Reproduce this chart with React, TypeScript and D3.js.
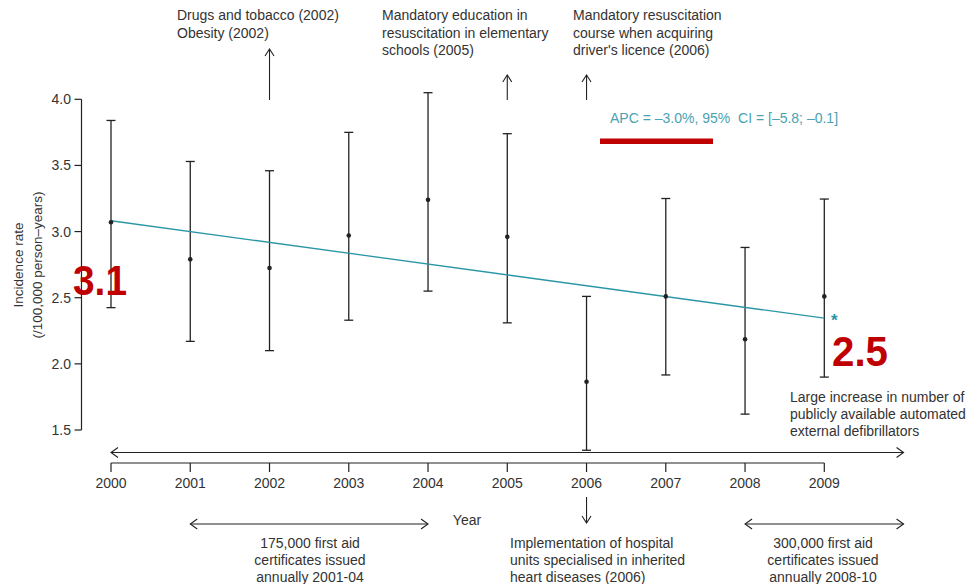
import React from "react";
import * as d3 from "d3";

const years = [2000, 2001, 2002, 2003, 2004, 2005, 2006, 2007, 2008, 2009];
const rate = [3.07, 2.79, 2.725, 2.97, 3.24, 2.96, 1.865, 2.51, 2.186, 2.51];
const lower = [2.425, 2.17, 2.1, 2.33, 2.55, 2.31, 1.347, 1.916, 1.62, 1.9];
const upper = [3.84, 3.53, 3.46, 3.75, 4.05, 3.74, 2.51, 3.25, 2.88, 3.246];
const trendYears = [2000, 2009];
const trendValues = [3.082, 2.345];
const yTicks = [1.5, 2.0, 2.5, 3.0, 3.5, 4.0];

const topNotes = [
  { year: 2002, lines: ["Drugs and tobacco (2002)", "Obesity (2002)"], tx: 177, arrowTop: 49 },
  { year: 2005, lines: ["Mandatory education in", "resuscitation in elementary", "schools (2005)"], tx: 382, arrowTop: 75 },
  { year: 2006, lines: ["Mandatory resuscitation", "course when acquiring", "driver's licence (2006)"], tx: 573, arrowTop: 75 },
];
const spanArrows = [
  { from: 2000, to: 2010, y: 452.5 },
  { from: 2001, to: 2004, y: 524 },
  { from: 2008, to: 2010, y: 524 },
];

const FONT = "'Liberation Sans', Arial, Helvetica, sans-serif";
const TEXT = "#333";
const TEAL = "#2a96a5";
const RED = "#c00000";

export default function App() {
  const x = d3.scaleLinear().domain([2000, 2009]).range([111, 824.3]);
  const y = d3.scaleLinear().domain([1.5, 4.0]).range([430, 99.3]);
  const trendLine = d3
    .line<number>()
    .x((_, i) => x(trendYears[i]))
    .y((d) => y(d));

  const axisX = 81.5;
  const axisY = 463;

  const chevronUp = (cx: number, cy: number) => `M${cx - 4.5},${cy + 7}L${cx},${cy}L${cx + 4.5},${cy + 7}`;
  const chevronDown = (cx: number, cy: number) => `M${cx - 4.5},${cy - 7}L${cx},${cy}L${cx + 4.5},${cy - 7}`;
  const chevronLeft = (cx: number, cy: number) => `M${cx + 7},${cy - 5}L${cx},${cy}L${cx + 7},${cy + 5}`;
  const chevronRight = (cx: number, cy: number) => `M${cx - 7},${cy - 5}L${cx},${cy}L${cx - 7},${cy + 5}`;

  return (
    <svg
      width={969}
      height={584}
      style={{ position: "absolute", left: 0, top: 0, background: "#fff" }}
      fontFamily={FONT}
    >
      {/* Y axis */}
      <line x1={axisX} x2={axisX} y1={y(4.0)} y2={y(1.5)} stroke="#222" strokeWidth={1.2} />
      {yTicks.map((t) => (
        <g key={t}>
          <line x1={axisX - 7} x2={axisX} y1={y(t)} y2={y(t)} stroke="#222" strokeWidth={1.2} />
          <text x={71} y={y(t) + 5} textAnchor="end" fontSize={14} fill={TEXT}>
            {t.toFixed(1)}
          </text>
        </g>
      ))}
      <text transform="translate(23,265) rotate(-90)" textAnchor="middle" fontSize={13.5} fill={TEXT}>
        Incidence rate
      </text>
      <text transform="translate(42,265) rotate(-90)" textAnchor="middle" fontSize={13.5} fill={TEXT}>
        (/100,000 person–years)
      </text>

      {/* X axis */}
      <line x1={x(2000)} x2={x(2009)} y1={axisY} y2={axisY} stroke="#222" strokeWidth={1.2} />
      {years.map((yr) => (
        <g key={yr}>
          <line x1={x(yr)} x2={x(yr)} y1={axisY} y2={axisY + 9} stroke="#222" strokeWidth={1.2} />
          <text x={x(yr)} y={488} textAnchor="middle" fontSize={14} fill={TEXT}>
            {yr}
          </text>
        </g>
      ))}
      <text x={467} y={525} textAnchor="middle" fontSize={14} fill={TEXT}>
        Year
      </text>

      {/* Error bars */}
      {years.map((yr, i) => (
        <g key={"e" + yr} stroke="#222" strokeWidth={1.3}>
          <line x1={x(yr)} x2={x(yr)} y1={y(upper[i])} y2={y(lower[i])} />
          <line x1={x(yr) - 4.5} x2={x(yr) + 4.5} y1={y(upper[i])} y2={y(upper[i])} />
          <line x1={x(yr) - 4.5} x2={x(yr) + 4.5} y1={y(lower[i])} y2={y(lower[i])} />
        </g>
      ))}

      {/* Trend */}
      <path d={trendLine(trendValues) || ""} fill="none" stroke={TEAL} strokeWidth={1.3} />
      {years.map((yr, i) => (
        <circle key={"p" + yr} cx={x(yr)} cy={y(rate[i])} r={2.3} fill="#222" />
      ))}
      <text x={x(2009) + 10} y={y(trendValues[1]) + 8} textAnchor="middle" fontSize={17} fill={TEAL} fontWeight="bold">
        *
      </text>

      {/* APC */}
      <text x={610} y={123} fontSize={14} fill="#4aa2b2">
        APC = –3.0%, 95%{"\u00a0\u00a0"}CI = [–5.8; –0.1]
      </text>
      <rect x={600} y={138.5} width={113} height={5.5} fill={RED} />

      {/* Red labels */}
      <text x={73} y={295} fontSize={42} fontWeight="bold" fill={RED} textLength={54} lengthAdjust="spacingAndGlyphs">
        3.1
      </text>
      <text x={832} y={366} fontSize={42} fontWeight="bold" fill={RED} textLength={56} lengthAdjust="spacingAndGlyphs">
        2.5
      </text>

      {/* Top annotations */}
      {topNotes.map((n) => (
        <g key={n.year}>
          {n.lines.map((l, j) => (
            <text key={j} x={n.tx} y={20 + j * 17.5} fontSize={14} fill={TEXT}>
              {l}
            </text>
          ))}
          <line x1={x(n.year)} x2={x(n.year)} y1={n.arrowTop} y2={100} stroke="#222" strokeWidth={1.1} />
          <path d={chevronUp(x(n.year), n.arrowTop)} fill="none" stroke="#222" strokeWidth={1.1} />
        </g>
      ))}

      {/* Span arrows */}
      {spanArrows.map((a, i) => (
        <g key={"s" + i} stroke="#222" strokeWidth={1.1} fill="none">
          <line x1={x(a.from)} x2={x(a.to)} y1={a.y} y2={a.y} />
          <path d={chevronLeft(x(a.from), a.y)} />
          <path d={chevronRight(x(a.to), a.y)} />
        </g>
      ))}

      {/* 2006 down arrow */}
      <line x1={x(2006)} x2={x(2006)} y1={497} y2={523} stroke="#222" strokeWidth={1.1} />
      <path d={chevronDown(x(2006), 523)} fill="none" stroke="#222" strokeWidth={1.1} />

      {/* Bottom notes */}
      {["175,000 first aid", "certificates issued", "annually 2001-04"].map((l, j) => (
        <text key={"a" + j} x={310} y={548 + j * 17} textAnchor="middle" fontSize={14} fill={TEXT}>
          {l}
        </text>
      ))}
      {["Implementation of hospital", "units specialised in inherited", "heart diseases (2006)"].map((l, j) => (
        <text key={"b" + j} x={510} y={548 + j * 17} fontSize={14} fill={TEXT}>
          {l}
        </text>
      ))}
      {["300,000 first aid", "certificates issued", "annually 2008-10"].map((l, j) => (
        <text key={"c" + j} x={823} y={548 + j * 17} textAnchor="middle" fontSize={14} fill={TEXT}>
          {l}
        </text>
      ))}
      {["Large increase in number of", "publicly available automated", "external defibrillators"].map((l, j) => (
        <text key={"d" + j} x={790} y={402 + j * 17} fontSize={14} fill={TEXT}>
          {l}
        </text>
      ))}
    </svg>
  );
}
